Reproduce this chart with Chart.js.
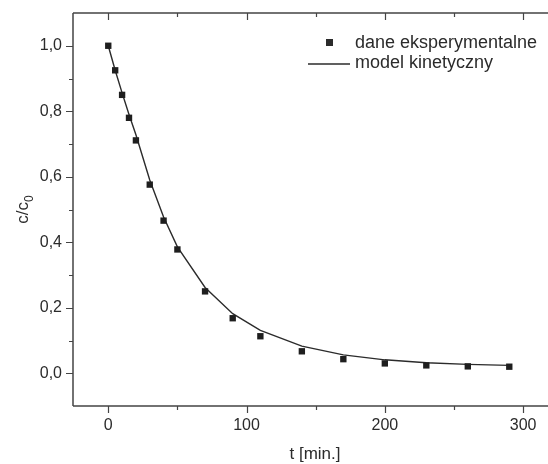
<!DOCTYPE html>
<html>
<head>
<meta charset="utf-8">
<script src="https://cdn.jsdelivr.net/npm/chart.js@4"></script>
<style>
    html, body { margin: 0; padding: 0; background: #fff; }
    #wrap { width: 548px; height: 464px; }
</style>
</head>
<body>
<div id="wrap"><canvas id="kinetics-chart"></canvas></div>
<script>
const times = [0, 5, 10, 15, 20, 30, 40, 50, 70, 90, 110, 140, 170, 200, 230, 260, 290];
const experimental = [1.0, 0.925, 0.85, 0.78, 0.711, 0.576, 0.466, 0.378, 0.25, 0.168, 0.113, 0.067, 0.043, 0.030, 0.024, 0.021, 0.020];
const model = [1.0, 0.925, 0.856, 0.79, 0.728, 0.59, 0.477, 0.386, 0.262, 0.182, 0.131, 0.083, 0.056, 0.041, 0.032, 0.027, 0.024];

const seriesLabels = ["dane eksperymentalne", "model kinetyczny"];
const xTitle = "t [min.]";
const yTitle = ["c/c", "0"];

const FONT = "'Liberation Sans', Arial, sans-serif";
const INK = "#2b2b2b";
const AXIS = "#444444";

const toPoints = (xs, ys) => xs.map((x, i) => ({ x, y: ys[i] }));

// axes frame, tick marks, titles and legend in the Origin style
const frame = {
    id: "frame",
    afterDraw(chart) {
        const { ctx, chartArea: a, scales } = chart;
        const x = scales.x, y = scales.y;
        ctx.save();
        ctx.strokeStyle = AXIS;
        ctx.lineWidth = 1.5;
        ctx.beginPath();
        ctx.moveTo(a.left, a.top); ctx.lineTo(a.right, a.top);
        ctx.moveTo(a.left, a.top); ctx.lineTo(a.left, a.bottom);
        ctx.moveTo(a.left, a.bottom); ctx.lineTo(a.right, a.bottom);
        ctx.stroke();

        ctx.lineWidth = 1.2;
        ctx.beginPath();
        for (let v = 0; v <= 300; v += 50) {
            const px = Math.round(x.getPixelForValue(v)) + 0.5;
            const len = v % 100 === 0 ? 7 : 4;
            ctx.moveTo(px, a.bottom); ctx.lineTo(px, a.bottom + len);
            ctx.moveTo(px, a.top); ctx.lineTo(px, a.top + len);
        }
        for (let k = 0; k <= 10; k++) {
            const py = Math.round(y.getPixelForValue(k / 10)) + 0.5;
            const len = k % 2 === 0 ? 7 : 4;
            ctx.moveTo(a.left, py); ctx.lineTo(a.left - len, py);
        }
        ctx.stroke();

        ctx.fillStyle = INK;
        // x title
        ctx.font = "17px " + FONT;
        ctx.textAlign = "center";
        ctx.textBaseline = "alphabetic";
        ctx.fillText(xTitle, 315, 459);

        // y title with subscript
        ctx.save();
        ctx.translate(28, (a.top + a.bottom) / 2);
        ctx.rotate(-Math.PI / 2);
        ctx.font = "17px " + FONT;
        const w1 = ctx.measureText(yTitle[0]).width;
        ctx.font = "12px " + FONT;
        const w2 = ctx.measureText(yTitle[1]).width;
        const start = -(w1 + w2) / 2;
        ctx.textAlign = "left";
        ctx.font = "17px " + FONT;
        ctx.fillText(yTitle[0], start, 0);
        ctx.font = "12px " + FONT;
        ctx.fillText(yTitle[1], start + w1, 5);
        ctx.restore();

        // legend
        ctx.font = "18px " + FONT;
        ctx.textAlign = "left";
        ctx.textBaseline = "middle";
        ctx.fillRect(326, 39, 7, 7);
        ctx.fillText(seriesLabels[0], 355, 43);
        ctx.strokeStyle = INK;
        ctx.lineWidth = 1.3;
        ctx.beginPath();
        ctx.moveTo(308, 64); ctx.lineTo(350, 64);
        ctx.stroke();
        ctx.fillText(seriesLabels[1], 355, 63);
        ctx.restore();
    }
};

new Chart(document.getElementById("kinetics-chart"), {
    type: "scatter",
    data: {
        datasets: [
            {
                label: seriesLabels[1],
                data: toPoints(times, model),
                showLine: true,
                borderColor: INK,
                borderWidth: 1.4,
                tension: 0,
                pointRadius: 0,
                order: 2
            },
            {
                label: seriesLabels[0],
                data: toPoints(times, experimental),
                pointStyle: "rect",
                pointRadius: 4.5,
                backgroundColor: "#1e1e1e",
                borderColor: "#1e1e1e",
                borderWidth: 0,
                order: 1
            }
        ]
    },
    options: {
        responsive: true,
        maintainAspectRatio: false,
        animation: false,
        layout: {
            autoPadding: false,
            padding: { top: 13, right: 0, left: 0, bottom: 0 }
        },
        plugins: {
            legend: { display: false },
            tooltip: { enabled: false }
        },
        scales: {
            x: {
                type: "linear",
                min: -25.5,
                max: 318,
                afterFit: (s) => {
                    s.height = 58;
                    s.paddingLeft = 0;
                    s.paddingRight = 0;
                },
                ticks: {
                    stepSize: 100,
                    includeBounds: false,
                    autoSkip: false,
                    maxRotation: 0,
                    color: INK,
                    padding: 10,
                    font: { family: FONT, size: 16 },
                    callback: (v) => String(v)
                },
                grid: { display: false, drawTicks: false },
                border: { display: false }
            },
            y: {
                min: -0.1,
                max: 1.1,
                afterFit: (s) => {
                    s.width = 73;
                    s.paddingTop = 0;
                    s.paddingBottom = 0;
                },
                ticks: {
                    stepSize: 0.1,
                    includeBounds: false,
                    autoSkip: false,
                    color: INK,
                    padding: 11,
                    font: { family: FONT, size: 16 },
                    callback: (v) => {
                        const k = Math.round(v * 10);
                        if (k < 0 || k > 10 || k % 2 !== 0) return "";
                        return (k / 10).toFixed(1).replace(".", ",");
                    }
                },
                grid: { display: false, drawTicks: false },
                border: { display: false }
            }
        }
    },
    plugins: [frame]
});
</script>
</body>
</html>
